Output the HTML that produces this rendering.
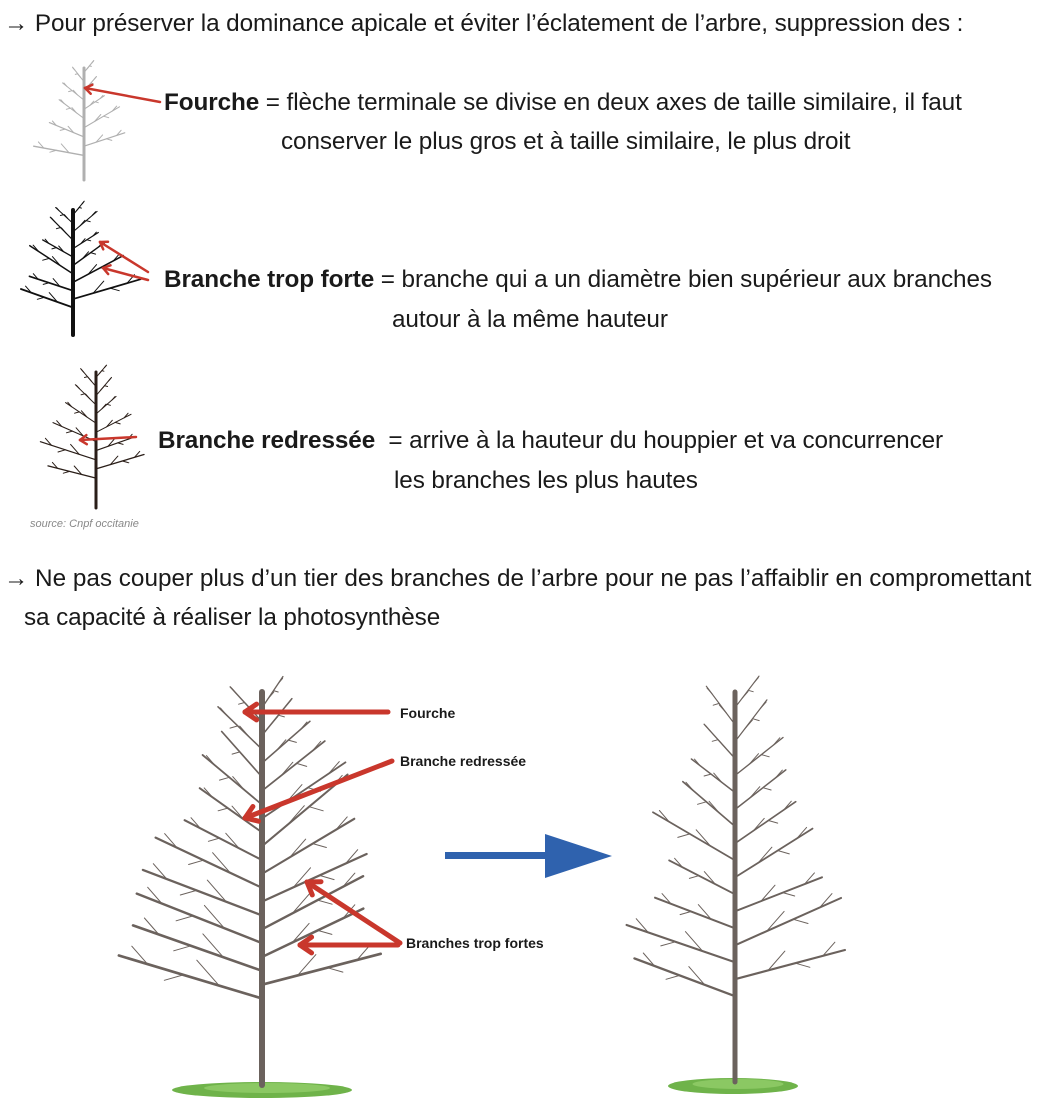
<!DOCTYPE html>
<html><head><meta charset="utf-8">
<style>
body{margin:0;width:1038px;height:1114px;background:#fff;position:relative;overflow:hidden;font-family:"Liberation Sans",sans-serif;color:#1a1a1a}
.t{position:absolute;font-size:24.3px;white-space:nowrap;letter-spacing:-0.1px}
.l{position:absolute;font-size:14px;font-weight:bold;white-space:nowrap}
svg{position:absolute;left:0;top:0}
</style></head><body>
<svg id="s" width="1038" height="1114" viewBox="0 0 1038 1114"></svg>
<div class="t" style="left:4px;top:10px">→ Pour préserver la dominance apicale et éviter l’éclatement de l’arbre, suppression des :</div>
<div class="t" style="left:164px;top:89px"><b>Fourche</b> = flèche terminale se divise en deux axes de taille similaire, il faut</div>
<div class="t" style="left:281px;top:128px">conserver le plus gros et à taille similaire, le plus droit</div>
<div class="t" style="left:164px;top:266px"><b>Branche trop forte</b> = branche qui a un diamètre bien supérieur aux branches</div>
<div class="t" style="left:392px;top:306px">autour à la même hauteur</div>
<div class="t" style="left:158px;top:427px"><b>Branche redressée</b> &nbsp;= arrive à la hauteur du houppier et va concurrencer</div>
<div class="t" style="left:394px;top:467px">les branches les plus hautes</div>
<div style="position:absolute;left:30px;top:518px;font-size:11px;font-style:italic;color:#888">source: Cnpf occitanie</div>
<div class="t" style="left:4px;top:565px;letter-spacing:0">→ Ne pas couper plus d’un tier des branches de l’arbre pour ne pas l’affaiblir en compromettant</div>
<div class="t" style="left:24px;top:604px">sa capacité à réaliser la photosynthèse</div>
<div class="l" style="left:400px;top:705px">Fourche</div>
<div class="l" style="left:400px;top:753px">Branche redressée</div>
<div class="l" style="left:406px;top:935px">Branches trop fortes</div>
<script>
var s=document.getElementById('s'),h='';
var seed=7;function r(){seed=(seed*9301+49297)%233280;return seed/233280;}
function ln(x1,y1,x2,y2,w,c){h+='<line x1="'+x1.toFixed(1)+'" y1="'+y1.toFixed(1)+'" x2="'+x2.toFixed(1)+'" y2="'+y2.toFixed(1)+'" stroke="'+c+'" stroke-width="'+w+'" stroke-linecap="round"/>';}
function tree(x,top,base,spread,tw,c,n){
 ln(x,base,x,top,tw,c);
 for(var i=0;i<n;i++){
  var f=i/(n-1);var y=base-(base-top)*(0.22+0.74*f);
  var side=i%2?1:-1;var L=spread*(1-0.7*f)*(0.8+0.4*r());
  var ang=(10+35*f+12*r())*Math.PI/180;
  var ex=x+side*L*Math.cos(ang),ey=y-L*Math.sin(ang);
  ln(x,y,ex,ey,Math.max(1,tw*0.45*(1-f*0.5)),c);
  for(var k=1;k<4;k++){var t=k/4+0.05;var px=x+(ex-x)*t,py=y+(ey-y)*t;var d=L*0.25*(1-t*0.5);
   var up=(k%2)?-1:1;ln(px,py,px+side*d*0.7,py+up*d*0.5-d*0.3,1,c);}
 }
}
function grass(x,y,w){h+='<ellipse cx="'+x+'" cy="'+y+'" rx="'+w+'" ry="8" fill="#6fb34a"/><ellipse cx="'+(x+5)+'" cy="'+(y-2)+'" rx="'+(w*0.7)+'" ry="5" fill="#8bc863"/>';}
grass(262,1090,90);grass(733,1086,65);
tree(262,692,1085,150,6,'#6b625d',22);
tree(735,692,1082,120,5,'#6b625d',18);
tree(84,68,180,50,3,'#b0b0b0',10);
tree(73,210,335,65,4,'#111',12);
tree(96,372,508,60,3,'#2a1e18',12);
var red='#c9372c';
function arr(x1,y1,x2,y2,w,hs){ln(x1,y1,x2,y2,w,red);var a=Math.atan2(y2-y1,x2-x1);
 for(var s2 of[-1,1]){var b=a+Math.PI-s2*0.6;ln(x2,y2,x2+hs*Math.cos(b),y2+hs*Math.sin(b),w,red);}}
arr(388,712,245,712,5,14);arr(392,761,245,818,5,14);arr(400,943,307,882,5,14);arr(398,945,300,945,5,14);
arr(160,102,85,88,2.5,8);arr(148,272,100,242,2.5,8);arr(148,280,103,268,2.5,8);arr(136,437,80,440,2.5,8);
h+='<rect x="445" y="852" width="105" height="7" fill="#2f62ae"/><polygon points="545,834 612,856 545,878" fill="#2f62ae"/>';
s.innerHTML=h;
</script>
</body></html>
